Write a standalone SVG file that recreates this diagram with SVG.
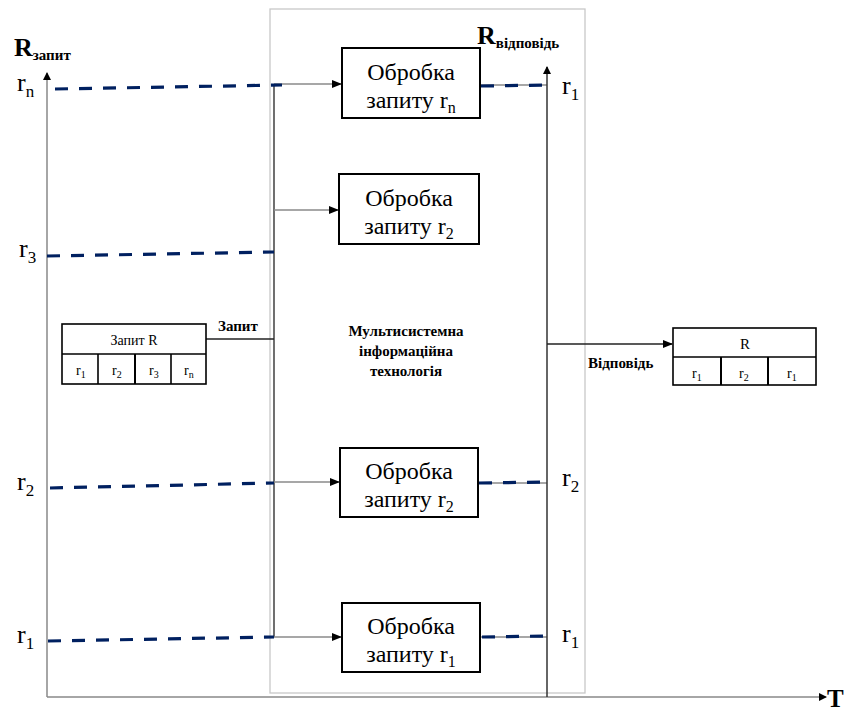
<svg xmlns="http://www.w3.org/2000/svg" width="849" height="711" viewBox="0 0 849 711" font-family="'Liberation Serif', 'DejaVu Serif', 'Noto Serif', serif">
<defs>
<marker id="ah" markerWidth="10" markerHeight="8" refX="9" refY="4" orient="auto" markerUnits="userSpaceOnUse">
<path d="M0,0 L10,4 L0,8 Z" fill="#000"/>
</marker>
<marker id="ahs" markerWidth="8" markerHeight="8" refX="7" refY="4" orient="auto" markerUnits="userSpaceOnUse">
<path d="M0,0 L8,4 L0,8 Z" fill="#000"/>
</marker>
<style>
text{font-family:'Liberation Serif','DejaVu Serif','Noto Serif',serif;fill:#000}
.b{font-weight:bold}
.box{fill:#fff;stroke:#000;stroke-width:2}
.tbl{fill:#fff;stroke:#000;stroke-width:1.6}
.dash{stroke:#002060;stroke-width:3.2;stroke-dasharray:13 11;fill:none}
.thin{stroke:#8a8a8a;stroke-width:1.4;fill:none}
.blk{stroke:#222;stroke-width:1.3;fill:none}
.axis{stroke:#888;stroke-width:1.5;fill:none}
.bt{font-size:24px;text-anchor:middle}
.lab{font-size:26px}
</style>
</defs>
<rect id="mit-frame" x="270" y="9" width="315" height="684" fill="none" stroke="#c8c8c8" stroke-width="1.3"/>
<g id="axes">
<line class="axis" x1="47" y1="697" x2="47" y2="73" marker-end="url(#ahs)"/>
<line class="axis" x1="47" y1="697" x2="826" y2="697" marker-end="url(#ahs)"/>
<text class="b" x="827" y="707" font-size="25">T</text>
<text class="b" x="14" y="56" font-size="26">R<tspan font-size="15" dy="4">запит</tspan></text>
<text class="b" x="477" y="44" font-size="26">R<tspan font-size="15" dy="4">відповідь</tspan></text>
</g>
<g id="connectors">
<line class="blk" x1="274" y1="84" x2="274" y2="637"/>
<line class="thin" x1="274" y1="84" x2="341" y2="84" marker-end="url(#ah)"/>
<line class="thin" x1="274" y1="210" x2="338" y2="210" marker-end="url(#ah)"/>
<line class="thin" x1="274" y1="482" x2="339" y2="482" marker-end="url(#ah)"/>
<line class="thin" x1="274" y1="637" x2="341" y2="637" marker-end="url(#ah)"/>
<line class="blk" x1="206" y1="339" x2="274" y2="339"/>
<line class="thin" x1="480" y1="85" x2="547" y2="85"/>
<line class="thin" x1="478" y1="483" x2="547" y2="483"/>
<line class="thin" x1="480" y1="637" x2="547" y2="637"/>
<line stroke="#333" stroke-width="1.5" x1="547" y1="697" x2="547" y2="67" marker-end="url(#ahs)"/>
<line class="blk" x1="547" y1="344" x2="672" y2="344" marker-end="url(#ah)"/>
<path class="dash" d="M55,89 L282,85"/>
<path class="dash" d="M47,256 L274,252"/>
<path class="dash" d="M50,488 L274,483"/>
<path class="dash" d="M48,641 L274,637"/>
<path class="dash" d="M481,86 L548,85"/>
<path class="dash" d="M479,483 L546,482"/>
<path class="dash" d="M482,637 L546,636"/>
</g>
<g id="axis-labels">
<text class="lab" x="17" y="91">r<tspan font-size="17" dy="6">n</tspan></text>
<text class="lab" x="19" y="257">r<tspan font-size="17" dy="6">3</tspan></text>
<text class="lab" x="17" y="490">r<tspan font-size="17" dy="6">2</tspan></text>
<text class="lab" x="17" y="643">r<tspan font-size="17" dy="6">1</tspan></text>
<text class="lab" x="562" y="94">r<tspan font-size="17" dy="6">1</tspan></text>
<text class="lab" x="562" y="486">r<tspan font-size="17" dy="6">2</tspan></text>
<text class="lab" x="562" y="642">r<tspan font-size="17" dy="6">1</tspan></text>
</g>
<g id="box-rn">
<rect class="box" x="342" y="48" width="138" height="70"/>
<text class="bt" x="411" y="80">Обробка</text>
<text class="bt" x="411" y="108">запиту r<tspan font-size="16" dy="5">n</tspan></text>
</g>
<g id="box-r2-top">
<rect class="box" x="339" y="174" width="140" height="70"/>
<text class="bt" x="409" y="206">Обробка</text>
<text class="bt" x="409" y="234">запиту r<tspan font-size="16" dy="5">2</tspan></text>
</g>
<g id="box-r2">
<rect class="box" x="340" y="448" width="138" height="69"/>
<text class="bt" x="409" y="479">Обробка</text>
<text class="bt" x="409" y="507">запиту r<tspan font-size="16" dy="5">2</tspan></text>
</g>
<g id="box-r1">
<rect class="box" x="342" y="603" width="138" height="69"/>
<text class="bt" x="411" y="634">Обробка</text>
<text class="bt" x="411" y="662">запиту r<tspan font-size="16" dy="5">1</tspan></text>
</g>
<g id="mit-label">
<text class="b" x="406" y="336" font-size="15" text-anchor="middle">Мультисистемна</text>
<text class="b" x="406" y="356" font-size="15" text-anchor="middle">інформаційна</text>
<text class="b" x="406" y="376" font-size="15" text-anchor="middle">технологія</text>
</g>
<g id="request-table">
<rect class="tbl" x="62" y="324" width="144" height="60"/>
<line stroke="#000" stroke-width="1.6" x1="62" y1="354" x2="206" y2="354"/>
<line stroke="#000" stroke-width="1.6" x1="98" y1="354" x2="98" y2="384"/>
<line stroke="#000" stroke-width="2" x1="135" y1="354" x2="135" y2="384"/>
<line stroke="#000" stroke-width="1.6" x1="171" y1="354" x2="171" y2="384"/>
<text x="134" y="345" font-size="14" text-anchor="middle">Запит R</text>
<text x="76" y="375" font-size="14">r<tspan font-size="10" dy="3">1</tspan></text>
<text x="112" y="375" font-size="14">r<tspan font-size="10" dy="3">2</tspan></text>
<text x="149" y="375" font-size="14">r<tspan font-size="10" dy="3">3</tspan></text>
<text x="184" y="375" font-size="14">r<tspan font-size="10" dy="3">n</tspan></text>
<text class="b" x="218" y="331" font-size="15">Запит</text>
</g>
<g id="response-table">
<rect class="tbl" x="673" y="328" width="143" height="57"/>
<line stroke="#000" stroke-width="1.6" x1="673" y1="357" x2="816" y2="357"/>
<line stroke="#000" stroke-width="2" x1="721" y1="357" x2="721" y2="385"/>
<line stroke="#000" stroke-width="2" x1="768" y1="357" x2="768" y2="385"/>
<text x="745" y="349" font-size="15" text-anchor="middle">R</text>
<text x="692" y="378" font-size="14">r<tspan font-size="10" dy="3">1</tspan></text>
<text x="739" y="378" font-size="14">r<tspan font-size="10" dy="3">2</tspan></text>
<text x="787" y="378" font-size="14">r<tspan font-size="10" dy="3">1</tspan></text>
<text class="b" x="588" y="368" font-size="15">Відповідь</text>
</g>
</svg>
